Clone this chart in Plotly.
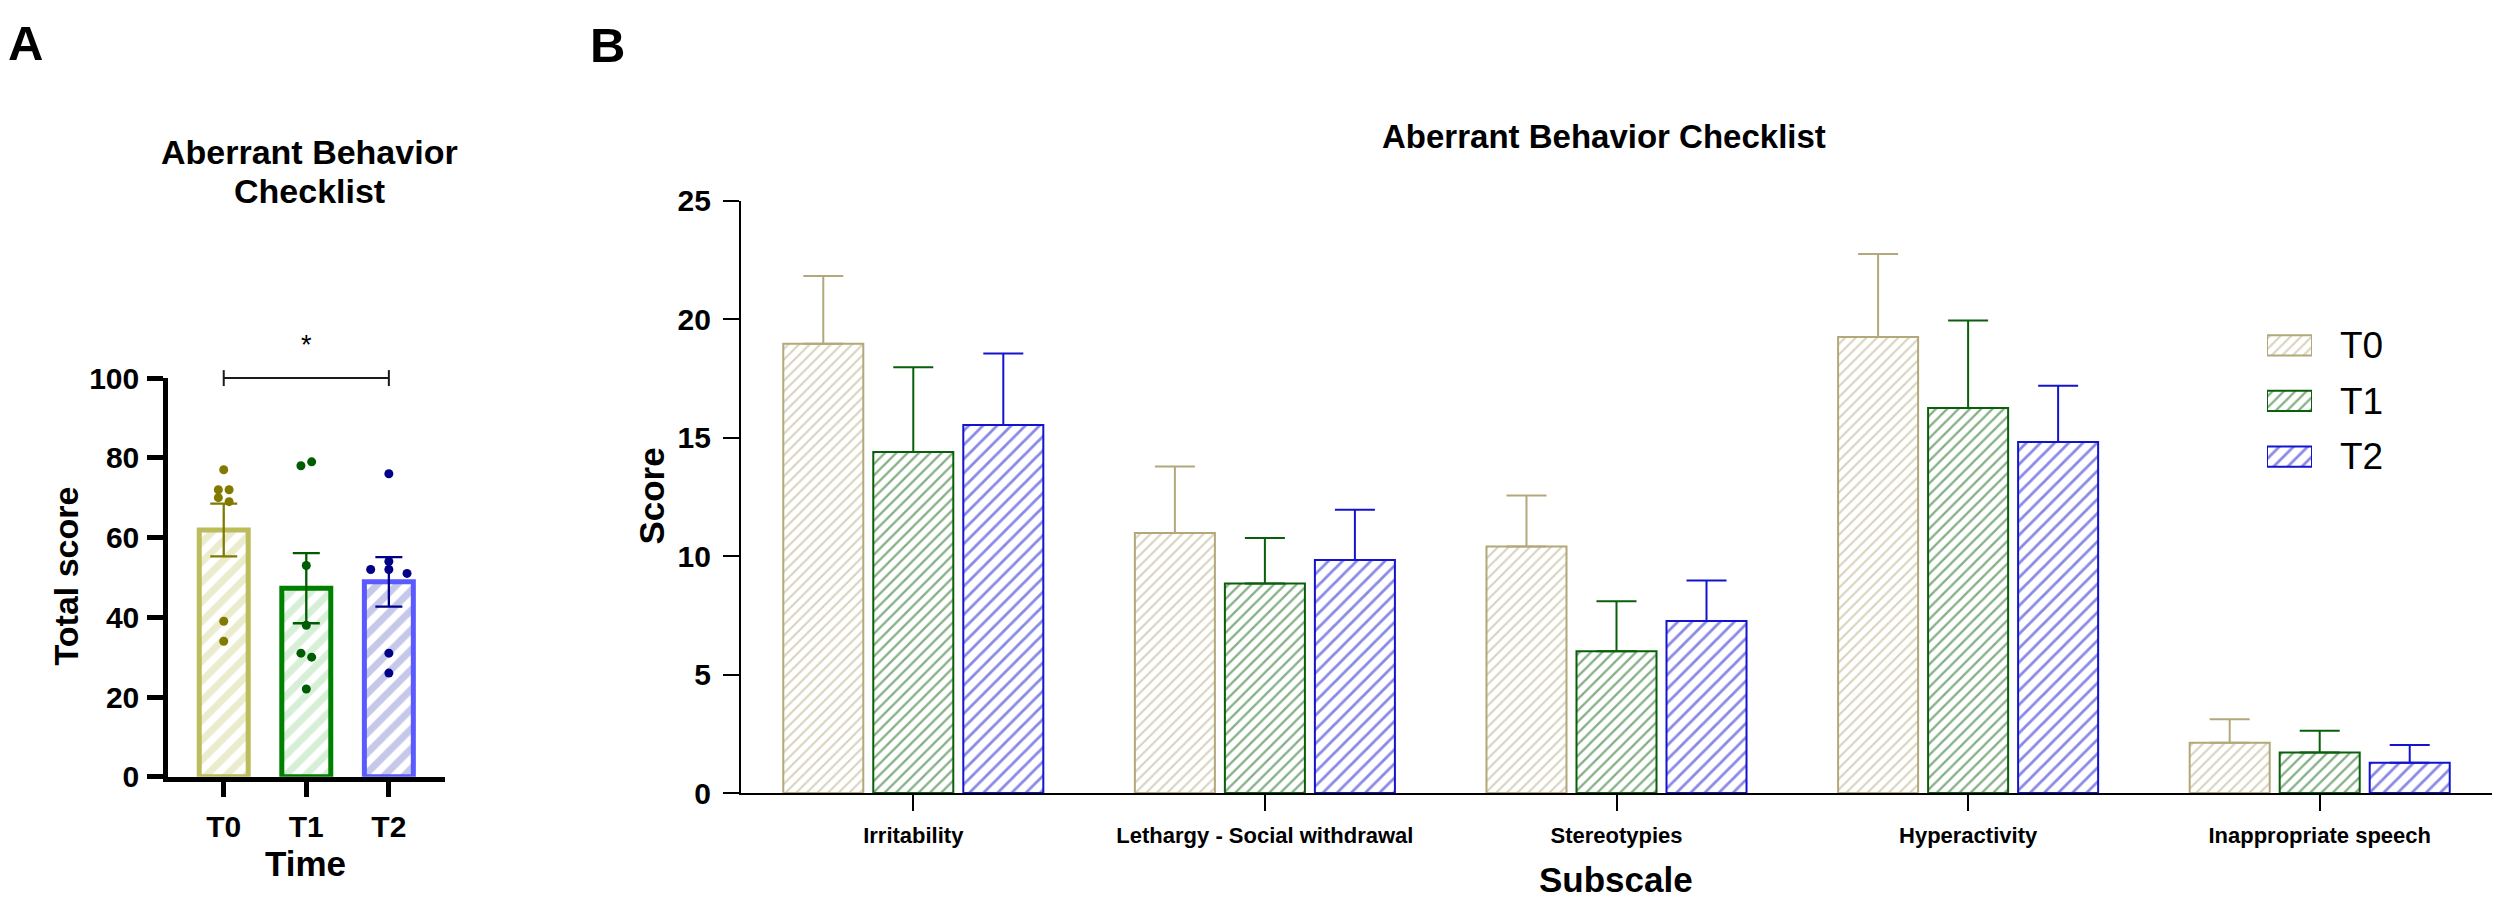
import plotly.graph_objects as go

# ------------------------------------------------------------------ data
# Panel A : total score
times = ["T0", "T1", "T2"]
total_mean = [61.9, 47.3, 48.9]
total_sem = [6.6, 8.8, 6.2]
dots_T0 = [77, 72, 72, 70, 69, 39, 34]
dots_T1 = [78, 79, 53, 38, 31, 30, 22]
dots_T2 = [76, 54, 52, 52, 51, 31, 26]
sig_pair = ["T0", "T2"]
sig_label = "*"

# Panel B : subscales
subscales = ["Irritability", "Lethargy - Social withdrawal", "Stereotypies",
             "Hyperactivity", "Inappropriate speech"]
sub_T0 = [18.97, 10.98, 10.41, 19.26, 2.13]
sub_T1 = [14.40, 8.85, 5.99, 16.26, 1.71]
sub_T2 = [15.54, 9.84, 7.27, 14.82, 1.28]
sem_T0 = [2.86, 2.81, 2.15, 3.50, 0.99]
sem_T1 = [3.58, 1.92, 2.11, 3.69, 0.92]
sem_T2 = [3.02, 2.12, 1.71, 2.38, 0.75]

# ------------------------------------------------------------------ styles
W, H = 2500, 917
FONT = "Liberation Sans, Arial, sans-serif"


def fx(px):
    return px / W


def fy(py):
    return 1 - py / H


# horizontal jitter of the individual points (category units)
jitter = {
    "T0": [0, -0.065, 0.065, -0.065, 0.065, 0, 0],
    "T1": [-0.065, 0.065, 0, 0, -0.065, 0.065, 0],
    "T2": [0, 0, -0.22, 0, 0.22, 0, 0],
}
a_border = ["#BDBC5C", "#008000", "#5A5AFF"]
a_fill = ["#D8D79B", "#ADE0AD", "#8C91D2"]
a_dot = ["#807A00", "#005C00", "#000088"]

b_col = ["#B2A87A", "#0A5F0A", "#1414CF"]
b_patsize = [7.5, 8, 10]

fig = go.Figure()

# ------------------------------------------------------------------ panel A
dots = [dots_T0, dots_T1, dots_T2]
for i, t in enumerate(times):
    fig.add_trace(go.Bar(
        x=[i], y=[total_mean[i]], width=0.593, offsetgroup="A",
        xaxis="x", yaxis="y", showlegend=False,
        marker=dict(color="white", line=dict(color=a_border[i], width=5),
                    pattern=dict(shape="/", fgcolor=a_fill[i], bgcolor="white",
                                 size=14, solidity=0.5)),
        error_y=dict(type="data", array=[total_sem[i]], color=a_dot[i],
                     thickness=2.3, width=13.5),
    ))
for i, t in enumerate(times):
    fig.add_trace(go.Scatter(
        x=[i + j for j in jitter[t]], y=dots[i], mode="markers",
        xaxis="x", yaxis="y", showlegend=False, cliponaxis=False,
        marker=dict(color=a_dot[i], size=9, line=dict(width=0)),
    ))

# significance bracket
i0, i1 = times.index(sig_pair[0]), times.index(sig_pair[1])
yr_a = [0, 100]
bracket_y = (100 - yr_a[0]) / (yr_a[1] - yr_a[0])
tick_h = 2 / (yr_a[1] - yr_a[0])
for (xa, xb, ya, yb) in [(i0, i1, bracket_y, bracket_y),
                         (i0, i0, bracket_y - tick_h, bracket_y + tick_h),
                         (i1, i1, bracket_y - tick_h, bracket_y + tick_h)]:
    fig.add_shape(type="line", xref="x", yref="y domain", x0=xa, x1=xb,
                  y0=ya, y1=yb, line=dict(color="#1a1a1a", width=2))

# ------------------------------------------------------------------ panel B
sub_vals = [sub_T0, sub_T1, sub_T2]
sub_sems = [sem_T0, sem_T1, sem_T2]
for k, t in enumerate(times):
    fig.add_trace(go.Bar(
        x=subscales, y=sub_vals[k], name=t, xaxis="x2", yaxis="y2",
        showlegend=False,
        marker=dict(color="white", line=dict(color=b_col[k], width=2),
                    pattern=dict(shape="/", fgcolor=b_col[k], bgcolor="white",
                                 size=b_patsize[k], solidity=0.28)),
        error_y=dict(type="data", symmetric=False, array=sub_sems[k],
                     arrayminus=[0] * len(subscales), color=b_col[k],
                     thickness=2, width=20),
    ))

# legend swatches (drawn as bars on a small helper axis)
fig.add_trace(go.Bar(
    y=times, x=[1] * len(times), orientation="h", width=0.364,
    xaxis="x3", yaxis="y3", showlegend=False, hoverinfo="skip",
    marker=dict(color="white", line=dict(color=b_col, width=2),
                pattern=dict(shape="/", fgcolor=b_col, bgcolor="white",
                             size=b_patsize, solidity=0.28)),
))

# ------------------------------------------------------------------ layout
bold_tick = dict(family=FONT, size=30, color="black", weight="bold")
fig.update_layout(
    width=W, height=H, margin=dict(l=0, r=0, t=0, b=0),
    paper_bgcolor="white", plot_bgcolor="white",
    barmode="group", bargap=0.232, bargroupgap=0.111,
    font=dict(family=FONT, color="black"),
    xaxis=dict(domain=[fx(168), fx(445)], range=[-0.675, 2.68],
               tickvals=list(range(len(times))), ticktext=times,
               showline=True, linecolor="black", linewidth=4.5,
               ticks="outside", ticklen=16, tickwidth=4.5, tickcolor="black",
               tickfont=bold_tick, ticklabelstandoff=4,
               showgrid=False, zeroline=False, fixedrange=True),
    yaxis=dict(domain=[fy(789), fy(375)], range=yr_a,
               tickvals=[0, 20, 40, 60, 80, 100],
               showline=True, linecolor="black", linewidth=4.5,
               ticks="outside", ticklen=16, tickwidth=4.5, tickcolor="black",
               tickfont=bold_tick, ticklabelstandoff=2,
               showgrid=False, zeroline=False, fixedrange=True),
    xaxis2=dict(domain=[fx(741), fx(2492)], type="category",
                range=[-0.49, len(subscales) - 1 + 0.49], anchor="y2",
                showline=True, linecolor="black", linewidth=2.2,
                ticks="outside", ticklen=16, tickwidth=2, tickcolor="black",
                tickfont=dict(family=FONT, size=22, color="black", weight="bold"),
                ticklabelstandoff=5,
                showgrid=False, zeroline=False, fixedrange=True),
    yaxis2=dict(domain=[fy(806), fy(191)], range=[0, 25], anchor="x2",
                tickvals=[0, 5, 10, 15, 20, 25],
                showline=True, linecolor="black", linewidth=2.2,
                ticks="outside", ticklen=16, tickwidth=2, tickcolor="black",
                tickfont=bold_tick, ticklabelstandoff=6,
                showgrid=False, zeroline=False, fixedrange=True),
    xaxis3=dict(domain=[fx(2267), fx(2312)], range=[0, 1], anchor="y3",
                visible=False, fixedrange=True),
    yaxis3=dict(domain=[fy(485.3), fy(312.2)], type="category",
                autorange="reversed", anchor="x3", side="right",
                showline=False, ticks="", showgrid=False, zeroline=False,
                tickfont=dict(family=FONT, size=37, color="black"),
                ticklabelstandoff=27, fixedrange=True),
)

ann = [
    dict(text="A", x=fx(6), y=fy(27), size=49, xanchor="left"),
    dict(text="B", x=fx(588), y=fy(29), size=49, xanchor="left"),
    dict(text="Aberrant Behavior", x=fx(309), y=fy(140), size=34),
    dict(text="Checklist", x=fx(309), y=fy(181), size=34),
    dict(text="Aberrant Behavior Checklist", x=fx(1604), y=fy(124), size=33),
    dict(text="Total score", x=fx(66), y=fy(581), size=34, textangle=-90),
    dict(text="Time", x=fx(305.5), y=fy(879), size=35),
    dict(text="Score", x=fx(652), y=fy(497), size=35, textangle=-90),
    dict(text="Subscale", x=fx(1616), y=fy(896), size=35),
]
for a in ann:
    fig.add_annotation(
        text=a["text"], x=a["x"], y=a["y"], xref="paper", yref="paper",
        xanchor=a.get("xanchor", "center"), yanchor="middle",
        textangle=a.get("textangle", 0), showarrow=False,
        font=dict(family=FONT, size=a["size"], color="black", weight="bold"),
    )
fig.add_annotation(
    text=sig_label, x=(i0 + i1) / 2, xref="x", y=bracket_y, yref="y domain",
    yanchor="middle", yshift=33, showarrow=False,
    font=dict(family=FONT, size=27, color="black"),
)

fig.write_html("out.html", config={"displayModeBar": False},
               post_script="document.body.style.margin='0';"
                           "document.body.style.overflow='hidden';")
